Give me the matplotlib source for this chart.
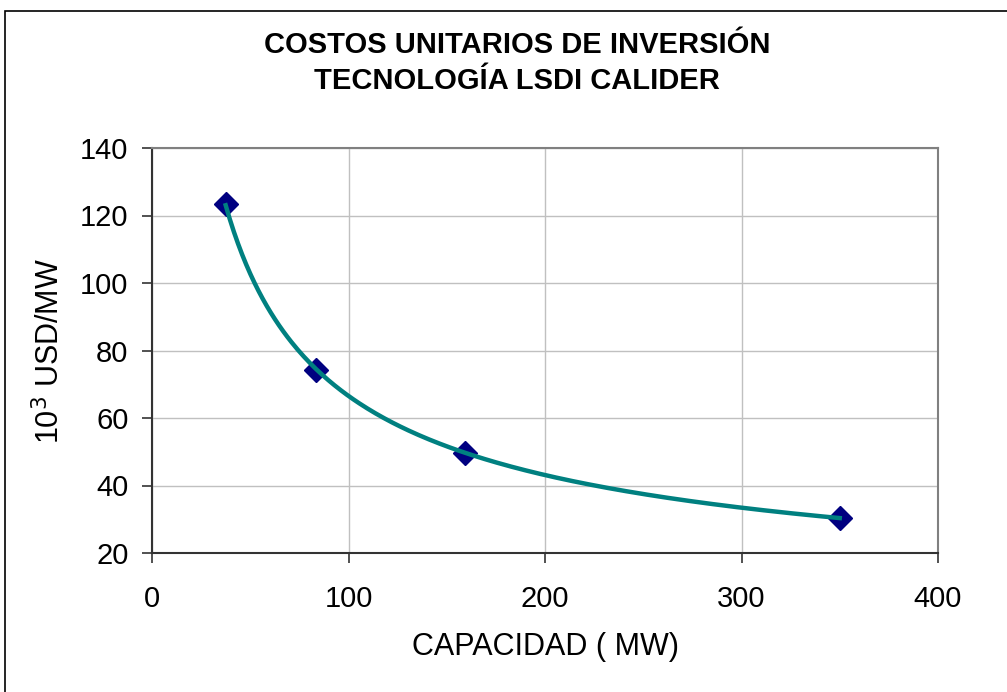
import numpy as np
import matplotlib
matplotlib.use("Agg")
import matplotlib.pyplot as plt
from matplotlib.patches import Rectangle

plt.rcParams['font.family'] = ['Liberation Sans', 'DejaVu Sans']

# data
capacidad = [37.5, 83.5, 159.5, 350.0]
costo = [123.3, 74.3, 49.6, 30.4]

title = "COSTOS UNITARIOS DE INVERSIÓN\nTECNOLOGÍA LSDI CALIDER"
xlabel = "CAPACIDAD ( MW)"
ylabel = r"10$^3$ USD/MW"
xticks = [0, 100, 200, 300, 400]
yticks = [20, 40, 60, 80, 100, 120, 140]

# power trendline (like excel), fitted on log-log
b, loga = np.polyfit(np.log(capacidad), np.log(costo), 1)
xs = np.linspace(min(capacidad), max(capacidad), 300)
ys = np.exp(loga) * xs ** b

fig = plt.figure(figsize=(10.07, 6.92), dpi=100)
fig.patches.append(Rectangle((5 / 1007, -0.1), 1.2, 1 - 11 / 692 + 0.1,
                             transform=fig.transFigure, fill=False,
                             edgecolor="black", linewidth=1.2))

ax = fig.add_axes([152 / 1007, 1 - 553 / 692, (938 - 152) / 1007, (553 - 148) / 692])
ax.plot(xs, ys, color="#008080", linewidth=3.2, zorder=3)
ax.plot(capacidad, costo, linestyle="none", marker="D", markersize=12,
        color="#000080", zorder=2)

ax.set_xlim(0, 400)
ax.set_ylim(20, 140)
ax.set_xticks(xticks)
ax.set_yticks(yticks)
ax.grid(True, color="#c0c0c0", linewidth=1)
ax.set_axisbelow(True)
ax.tick_params(direction="out", length=7, width=1.2, labelsize=21, colors="#333333",
               labelcolor="black")
ax.tick_params(axis="x", pad=16)
ax.tick_params(axis="y", pad=10)
for side in ["left", "bottom"]:
    ax.spines[side].set_color("#333333")
    ax.spines[side].set_linewidth(1.5)
for side in ["top", "right"]:
    ax.spines[side].set_color("#808080")
    ax.spines[side].set_linewidth(1.5)

ax.set_xlabel(xlabel, fontsize=22, labelpad=14)
ax.set_ylabel(ylabel, fontsize=22, labelpad=10)

fig.text(517 / 1007, 1 - 63 / 692, title, ha="center", va="center",
         fontsize=21, fontweight="bold", linespacing=1.35)

fig.savefig("out.png", dpi=100)
